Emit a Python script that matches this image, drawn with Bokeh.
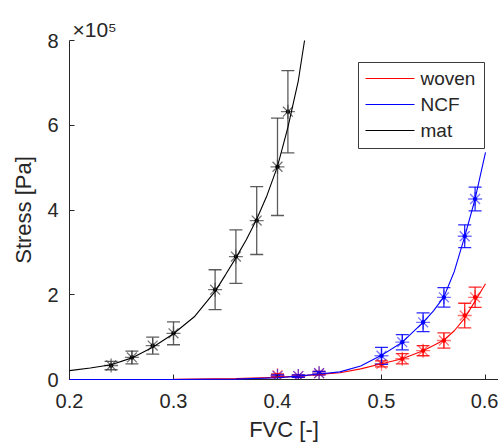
from bokeh.plotting import figure
from bokeh.models import (Range1d, ColumnDataSource, Whisker, TeeHead, Title,
                          FixedTicker, BoxAnnotation, Arrow, Label)
from bokeh.embed import file_html
from bokeh.resources import INLINE

# ---------------- data (stress in Pa) ----------------
# measured points with error bars
mat_x = [0.24, 0.26, 0.28, 0.30, 0.34, 0.36, 0.38, 0.40, 0.41]
mat_y = [0.33e5, 0.52e5, 0.80e5, 1.09e5, 2.12e5, 2.90e5, 3.75e5, 5.02e5, 6.32e5]
mat_err = [0.10e5, 0.15e5, 0.20e5, 0.27e5, 0.47e5, 0.63e5, 0.80e5, 1.15e5, 0.97e5]

ncf_x = [0.40, 0.42, 0.44, 0.50, 0.52, 0.54, 0.56, 0.58, 0.59]
ncf_y = [0.08e5, 0.08e5, 0.15e5, 0.56e5, 0.88e5, 1.35e5, 1.94e5, 3.38e5, 4.26e5]
ncf_err = [0.03e5, 0.03e5, 0.04e5, 0.20e5, 0.18e5, 0.22e5, 0.23e5, 0.27e5, 0.28e5]

woven_x = [0.40, 0.42, 0.44, 0.50, 0.52, 0.54, 0.56, 0.58, 0.59]
woven_y = [0.10e5, 0.08e5, 0.15e5, 0.37e5, 0.49e5, 0.68e5, 0.92e5, 1.51e5, 1.94e5]
woven_err = [0.03e5, 0.03e5, 0.04e5, 0.07e5, 0.12e5, 0.12e5, 0.18e5, 0.29e5, 0.24e5]

# fitted curves
mat_fit_x = [0.20, 0.22, 0.24, 0.26, 0.28, 0.30, 0.32, 0.34, 0.35, 0.36, 0.37,
             0.38, 0.39, 0.40, 0.41, 0.42, 0.426]
mat_fit_y = [0.21e5, 0.27e5, 0.35e5, 0.51e5, 0.76e5, 1.08e5, 1.48e5, 2.08e5,
             2.47e5, 2.87e5, 3.30e5, 3.78e5, 4.35e5, 5.03e5, 5.95e5, 7.05e5, 8.0e5]

ncf_fit_x = [0.20, 0.30, 0.36, 0.40, 0.42, 0.44, 0.46, 0.48, 0.50, 0.52, 0.54,
             0.55, 0.56, 0.57, 0.58, 0.59, 0.60]
ncf_fit_y = [0.0, 0.0, 0.01e5, 0.04e5, 0.08e5, 0.13e5, 0.18e5, 0.32e5, 0.57e5,
             0.88e5, 1.35e5, 1.62e5, 1.95e5, 2.55e5, 3.37e5, 4.26e5, 5.36e5]

woven_fit_x = [0.20, 0.30, 0.36, 0.40, 0.42, 0.44, 0.46, 0.48, 0.50, 0.52, 0.54,
               0.55, 0.56, 0.57, 0.58, 0.59, 0.60]
woven_fit_y = [0.0, 0.005e5, 0.02e5, 0.05e5, 0.08e5, 0.12e5, 0.16e5, 0.25e5,
               0.37e5, 0.49e5, 0.68e5, 0.80e5, 0.93e5, 1.15e5, 1.45e5, 1.85e5, 2.26e5]

x_ticks = [0.2, 0.3, 0.4, 0.5, 0.6]
x_tick_labels = ["0.2", "0.3", "0.4", "0.5", "0.6"]
y_ticks = [0, 2e5, 4e5, 6e5, 8e5]
y_tick_labels = ["0", "2", "4", "6", "8"]

series_names = ["woven", "NCF", "mat"]
series_colors = ["#ff0000", "#0000ff", "#000000"]
series = [
    (woven_x, woven_y, woven_err, woven_fit_x, woven_fit_y),
    (ncf_x, ncf_y, ncf_err, ncf_fit_x, ncf_fit_y),
    (mat_x, mat_y, mat_err, mat_fit_x, mat_fit_y),
]

FONT = "Liberation Sans"
TXT = "#262626"

p = figure(width=498, height=448, output_backend="svg", toolbar_location=None,
           x_range=Range1d(0.2, 0.2 + 429 / 1040), y_range=Range1d(0, 8e5),
           min_border_left=69, min_border_right=0, min_border_top=40,
           min_border_bottom=69)
p.outline_line_color = None
p.grid.visible = False
p.background_fill_color = "white"
p.border_fill_color = "white"

for ax in (p.xaxis[0], p.yaxis[0]):
    ax.axis_line_color = TXT
    ax.major_tick_line_color = TXT
    ax.major_tick_in = 5
    ax.major_tick_out = 0
    ax.minor_tick_line_color = None
    ax.major_label_text_font = FONT
    ax.major_label_text_font_size = "20px"
    ax.major_label_text_color = TXT
    ax.axis_label_text_font = FONT
    ax.axis_label_text_font_size = "22px"
    ax.axis_label_text_color = TXT
    ax.axis_label_text_font_style = "normal"

p.xaxis.ticker = FixedTicker(ticks=x_ticks)
p.xaxis.major_label_overrides = {t: l for t, l in zip(x_ticks, x_tick_labels)}
p.yaxis.ticker = FixedTicker(ticks=y_ticks)
p.yaxis.major_label_overrides = {t: l for t, l in zip(y_ticks, y_tick_labels)}
p.xaxis.axis_label = "FVC [-]"
p.yaxis.axis_label = "Stress [Pa]"
p.xaxis.major_label_standoff = 14
p.yaxis.major_label_standoff = 11
p.xaxis.axis_label_standoff = 6
p.yaxis.axis_label_standoff = 8

for col, (xs, ys, errs, fx, fy) in zip(series_colors, series):
    err_col = "#404040" if col == "#000000" else col
    src = ColumnDataSource(dict(x=xs, y=ys,
                                upper=[a + b for a, b in zip(ys, errs)],
                                lower=[a - b for a, b in zip(ys, errs)]))
    wh = Whisker(source=src, base="x", upper="upper", lower="lower",
                 line_color=err_col, line_width=1.3, line_alpha=0.85,
                 upper_head=TeeHead(size=13, line_color=err_col, line_width=1.3, line_alpha=0.85),
                 lower_head=TeeHead(size=13, line_color=err_col, line_width=1.3, line_alpha=0.85),
                 level="glyph")
    p.add_layout(wh)
    p.line(fx, fy, line_color=col, line_width=1.1, level="overlay")
    p.scatter("x", "y", source=src, marker="asterisk", size=14,
              line_color=col, line_alpha=0.55, line_width=1.3)
    p.scatter("x", "y", source=src, marker="circle", size=3.5,
              fill_color=col, line_color=col)

# ---- legend box (screen units, relative to the plot frame) ----
LEG_L, LEG_R, LEG_B, LEG_T = 289, 415, 231, 317
ROW_Y = [301, 275, 249]
p.add_layout(BoxAnnotation(left=LEG_L, right=LEG_R, bottom=LEG_B, top=LEG_T,
                           left_units="screen", right_units="screen",
                           bottom_units="screen", top_units="screen",
                           fill_color="white", fill_alpha=1,
                           line_color=TXT, line_width=1, line_alpha=0.9,
                           level="annotation"))
for name, col, ry in zip(series_names, series_colors, ROW_Y):
    p.add_layout(Arrow(x_start=LEG_L + 7, y_start=ry, x_end=LEG_L + 56, y_end=ry,
                       start_units="screen", end_units="screen", end=None,
                       line_color=col, line_width=1.1, level="annotation"))
    p.add_layout(Label(x=LEG_L + 62, y=ry, x_units="screen", y_units="screen",
                       text=name, text_font=FONT, text_font_size="19px",
                       text_color=TXT, text_baseline="middle", level="annotation"))

# exponent marker of the y axis
title = Title(text="×10⁵", align="left", offset=3, standoff=0,
              text_font=FONT, text_font_size="21px", text_color=TXT,
              text_font_style="normal")
p.add_layout(title, "above")

open("out.html", "w").write(file_html(p, INLINE))
